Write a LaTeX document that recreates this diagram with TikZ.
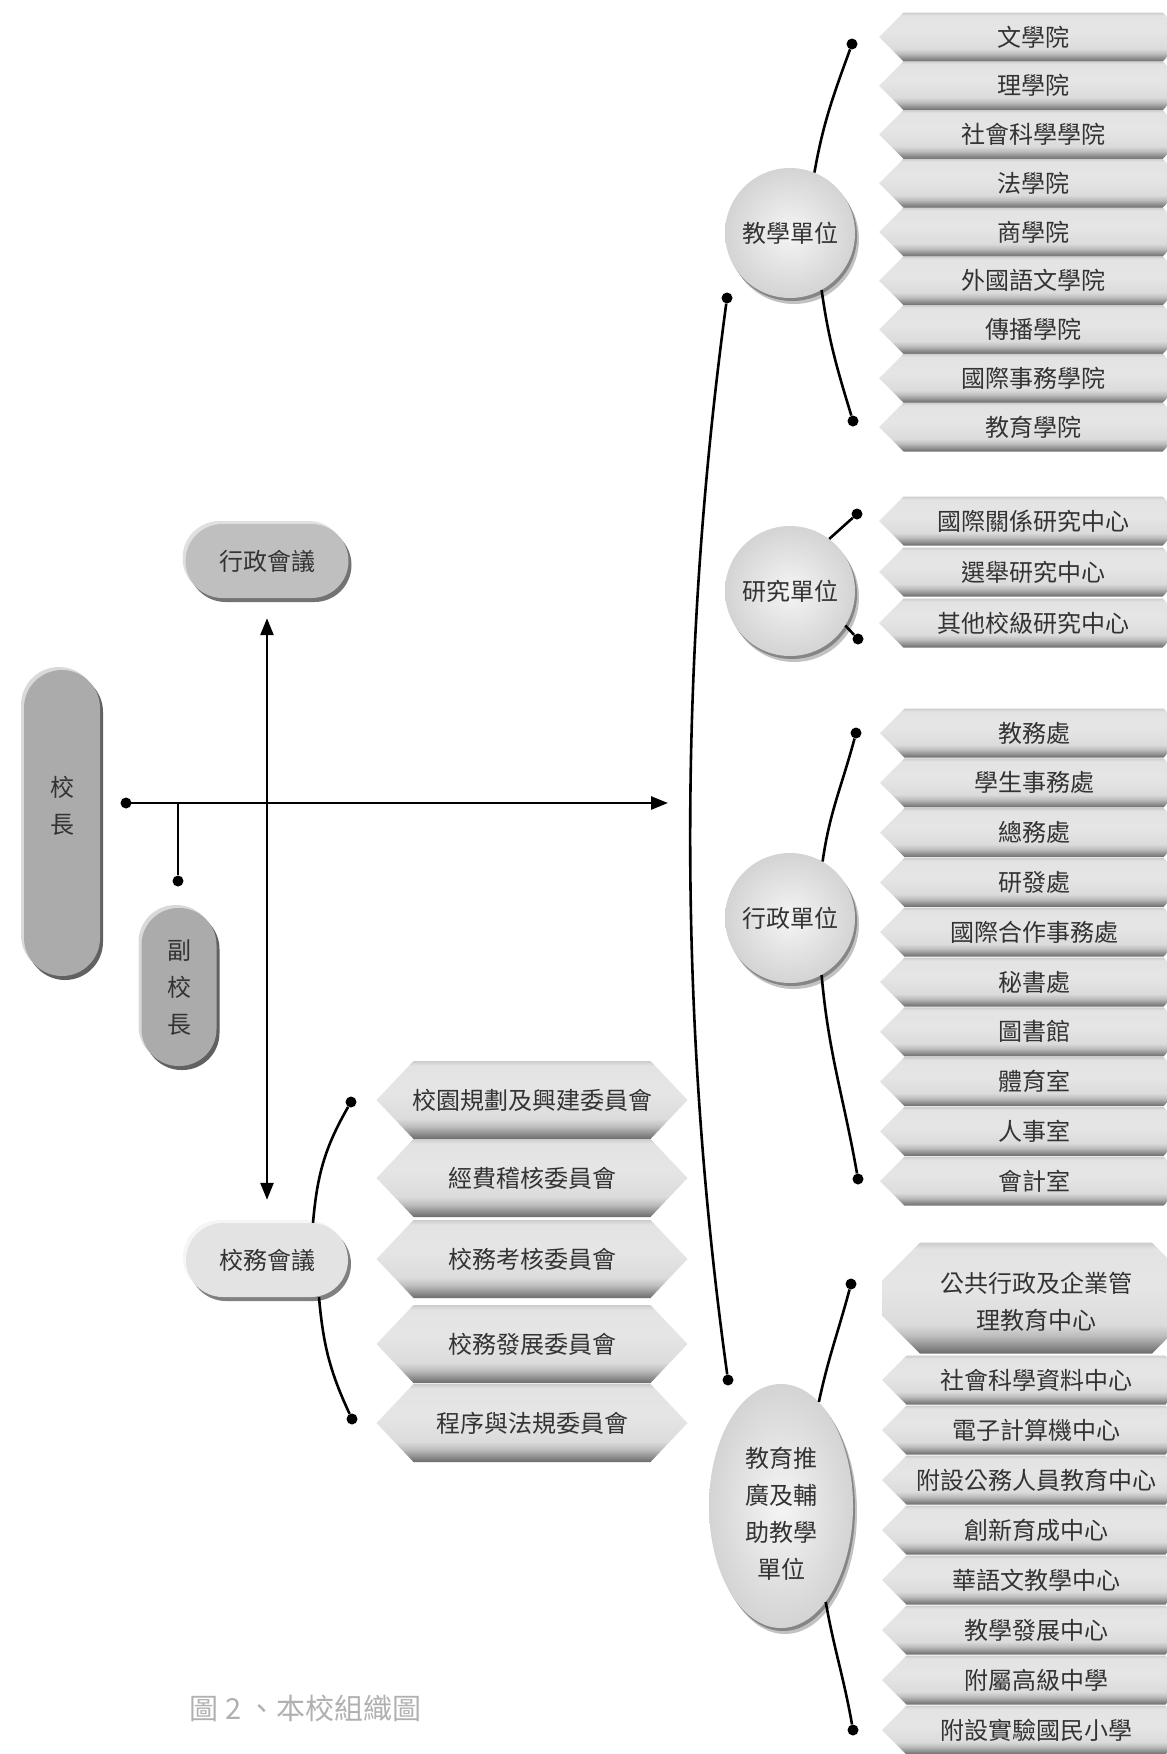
\documentclass[tikz,border=0pt]{standalone}
\usepackage{fontspec}
\usepackage{tikz}
\usetikzlibrary{arrows.meta,shadows,shapes.geometric}
\newfontfamily\cjkfont{Noto Sans CJK TC}
\definecolor{orgink}{RGB}{51,51,51}
\definecolor{orgcaption}{RGB}{176,176,176}
\pgfdeclareverticalshading{bevel}{100bp}{color(0bp)=(black!58); color(25bp)=(black!58);
  color(28bp)=(black!46); color(33bp)=(black!26); color(38bp)=(black!14);
  color(55bp)=(black!10); color(72bp)=(black!11); color(75bp)=(black!20); color(100bp)=(black!20)}
\newcommand\orgfont{\cjkfont\fontsize{24}{37}\selectfont}
\newcommand\lines[2]{\raisebox{#1}[0pt][0pt]{\begin{tabular}{@{}c@{}}#2\end{tabular}}}

\begin{document}
\begin{tikzpicture}[x=1pt, y=1pt,
    link/.style={line width=2.6pt, black},
    dot/.style={circle, fill=black, inner sep=0pt, minimum size=11pt},
    hexbox/.style 2 args={rectangle, inner sep=0pt, text=orgink, font=\orgfont, align=center,
      path picture={\shade[shading=bevel]
        ([yshift=-#2]path picture bounding box.north west) -- ([xshift=#1]path picture bounding box.north west)
        -- ([xshift=-#1]path picture bounding box.north east) -- ([yshift=-#2]path picture bounding box.north east)
        -- ([yshift=#2]path picture bounding box.south east) -- ([xshift=-#1]path picture bounding box.south east)
        -- ([xshift=#1]path picture bounding box.south west) -- ([yshift=#2]path picture bounding box.south west) -- cycle;}},
    unitbox/.style={hexbox={24.5pt}{24.5pt}, minimum width=308pt, minimum height=49pt},
    cmtbox/.style={hexbox={37pt}{39pt}, minimum width=311pt, minimum height=78pt},
    ball/.style={inner sep=0pt, text=orgink, font=\orgfont, align=center,
      inner color=black!4, outer color=black!17,
      general shadow={shadow xshift=4pt, shadow yshift=-6pt, fill=black!24},
      general shadow={shadow xshift=2pt, shadow yshift=-3pt, fill=black!48}},
    pill/.style n args={4}{rectangle, rounded corners=#1, inner sep=0pt, text=orgink, font=\orgfont, align=center,
      fill=#2,
      general shadow={shadow xshift=-3pt, shadow yshift=3pt, fill=#3},
      general shadow={shadow xshift=3pt, shadow yshift=-4pt, fill=#4}}]
  \useasboundingbox (0,0) rectangle (1167,-1754);
  \clip (0,0) rectangle (1167,-1754);

  % President and meetings
  \node[pill={38pt}{black!33}{black!15}{black!62}, minimum width=76pt, minimum height=306pt] (pres) at (62,-823) {\lines{9pt}{校\\長}};
  \node[pill={37pt}{black!33}{black!15}{black!62}, minimum width=75pt, minimum height=158pt] (vp) at (179,-987) {\lines{-8pt}{副\\校\\長}};
  \node[pill={37pt}{black!25}{black!12}{black!55}, minimum width=163pt, minimum height=74pt] (admmeet) at (267,-561) {行政會議};
  \node[pill={37pt}{black!11}{black!4}{black!50}, minimum width=162pt, minimum height=74pt] (council) at (267,-1260) {校務會議};

  % Committees
  \foreach \label/\y [count=\i] in {校園規劃及興建委員會/1100, 經費稽核委員會/1178, 校務考核委員會/1259,
      校務發展委員會/1344, 程序與法規委員會/1423}
    \node[cmtbox] (cmt\i) at (532,-\y) {\label};

  % Unit groups
  \node[ball, circle, minimum size=130pt] (teach) at (790,-233) {教學單位};
  \node[ball, circle, minimum size=130pt] (res) at (790,-591) {研究單位};
  \node[ball, circle, minimum size=130pt] (office) at (790,-918) {行政單位};
  \node[ball, ellipse, minimum width=144pt, minimum height=244pt] (edu) at (781,-1506) {\lines{-16pt}{教育推\\廣及輔\\助教學\\單位}};

  \foreach \label [count=\i] in {文學院,理學院,社會科學學院,法學院,商學院,外國語文學院,傳播學院,國際事務學院,教育學院}
    \node[unitbox] (col\i) at (1033,{-37-48.75*(\i-1)}) {\label};
  \foreach \label [count=\i] in {國際關係研究中心,選舉研究中心,其他校級研究中心}
    \node[unitbox] (rc\i) at (1033,{-521-51*(\i-1)}) {\label};
  \foreach \label [count=\i] in {教務處,學生事務處,總務處,研發處,國際合作事務處,秘書處,圖書館,體育室,人事室,會計室}
    \node[unitbox] (off\i) at (1034,{-733-49.8*(\i-1)}) {\label};
  \node[hexbox={38pt}{38pt}, minimum width=308pt, minimum height=111pt] (ctr0) at (1036,-1298) {\lines{-12pt}{公共行政及企業管\\理教育中心}};
  \foreach \label [count=\i] in {社會科學資料中心,電子計算機中心,附設公務人員教育中心,創新育成中心,華語文教學中心,教學發展中心,附屬高級中學,附設實驗國民小學}
    \node[unitbox] (ctr\i) at (1036,{-1380-50*(\i-1)}) {\label};

  % Dots
  \node[dot] (presdot) at (126,-803) {};
  \node[dot] (vpdot) at (178,-881) {};
  \node[dot] (bigtop) at (727,-298) {};
  \node[dot] (bigbot) at (728,-1380) {};
  \node[dot] (teachtop) at (852,-44) {};
  \node[dot] (teachbot) at (853,-421) {};
  \node[dot] (restop) at (857,-514) {};
  \node[dot] (resbot) at (858,-639) {};
  \node[dot] (offtop) at (856,-733) {};
  \node[dot] (offbot) at (858,-1179) {};
  \node[dot] (ctrtop) at (851,-1284) {};
  \node[dot] (ctrbot) at (853,-1730) {};
  \node[dot] (cmttop) at (351,-1102) {};
  \node[dot] (cmtbot) at (352,-1419) {};
  \coordinate (vpjoin) at (178,-803);
  \coordinate (arrowtip) at (668,-803);

  % Connectors
  \draw[link, -{Triangle[length=17pt, width=13pt]}] (presdot.center) -- (arrowtip);
  \draw[link] (vpjoin) -- (vpdot);
  \draw[link, {Triangle[length=17pt, width=13pt]}-{Triangle[length=17pt, width=13pt]},
    shorten <=20pt, shorten >=23pt] (admmeet) -- (council);
  \draw[link] (bigtop) .. controls (678,-660) and (678,-1020) .. (bigbot);
  \draw[link] (teach.68) to[out=80, in=250] (teachtop);
  \draw[link] (teach.-61) to[out=-82, in=107] (teachbot);
  \draw[link] (res.53) -- (restop);
  \draw[link] (res.-32) -- (resbot);
  \draw[link] (office.60) to[out=82, in=255] (offtop);
  \draw[link] (office.-61) to[out=-85, in=100] (offbot);
  \draw[link] (edu.70) to[out=78, in=255] (ctrtop);
  \draw[link] (edu.-65) to[out=-80, in=100] (ctrbot);
  \draw[link] ([xshift=46pt]council.north) to[out=85, in=240] (cmttop);
  \draw[link] ([xshift=52pt]council.south) to[out=-85, in=115] (cmtbot);

  % Caption
  \node[anchor=west, text=orgcaption, font=\cjkfont\fontsize{29}{34}\selectfont] (caption) at (186,-1708) {圖 2 、本校組織圖};
\end{tikzpicture}
\end{document}
